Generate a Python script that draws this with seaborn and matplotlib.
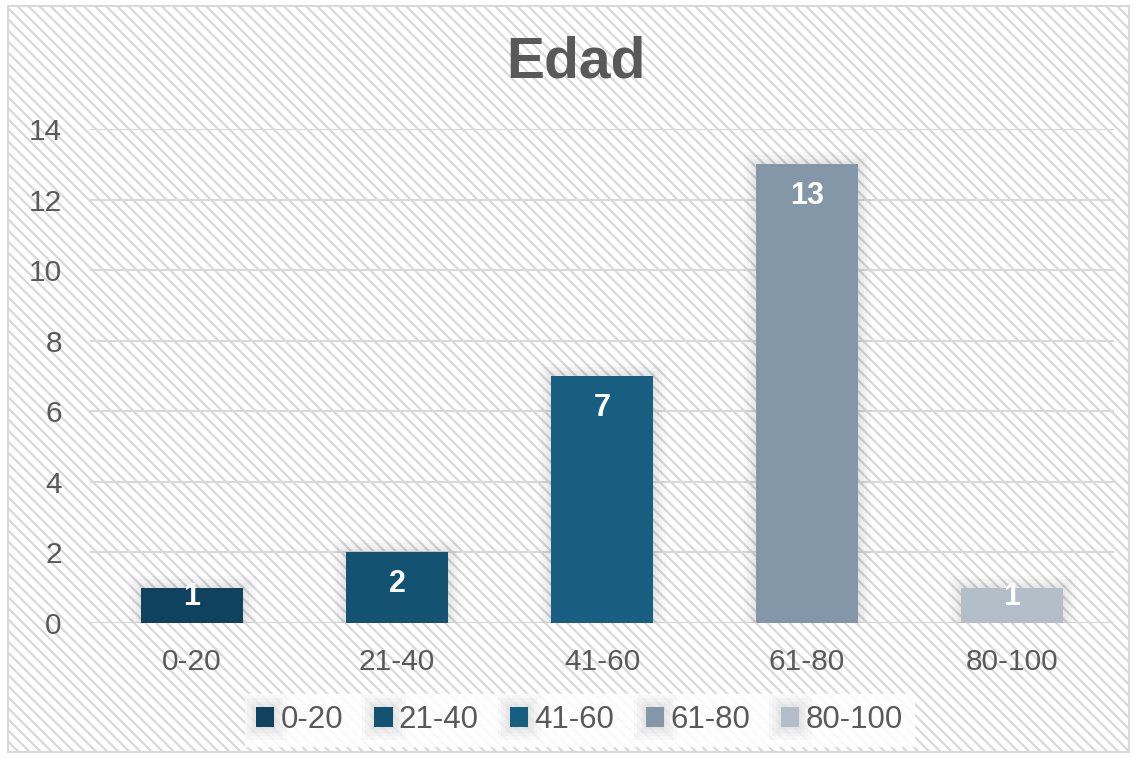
import pandas as pd
import seaborn as sns
import matplotlib.pyplot as plt
import matplotlib.patheffects as pe
from matplotlib.patches import Rectangle

# data
categories = ['0-20', '21-40', '41-60', '61-80', '80-100']
counts = [1, 2, 7, 13, 1]
colors = ['#0E425E', '#135270', '#175E80', '#8497A8', '#B4BEC8']

df = pd.DataFrame({'Edad': categories, 'n': counts})

sns.set_theme(style='white')
plt.rcParams['font.family'] = ['Liberation Sans', 'DejaVu Sans']
plt.rcParams['hatch.color'] = '#F3F3F3'
plt.rcParams['hatch.linewidth'] = 1.6

fig = plt.figure(figsize=(11.35, 7.58), dpi=100)
fig.patch.set_facecolor('white')

# hatched background + thin frame (excel style)
bg = Rectangle((0.007, 0.008), 0.988, 0.984, transform=fig.transFigure,
               facecolor='white', edgecolor='#D9D9D9', lw=1.5, hatch='\\\\\\',
               zorder=-10)
fig.patches.append(bg)

ax = fig.add_axes([0.0789, 0.1781, 0.903, 0.6517])
ax.patch.set_alpha(0)

sns.barplot(data=df, x='Edad', y='n', hue='Edad', palette=colors,
            saturation=1, width=0.5, dodge=False, legend=True, ax=ax, zorder=3)

# soft shadow round the bars
glow = [pe.Stroke(linewidth=w, foreground='black', alpha=0.025) for w in (18, 13, 8, 4)]
for bar in ax.patches:
    bar.set_linewidth(0)
    bar.set_path_effects(glow + [pe.Normal()])

# data labels
for i, v in enumerate(counts):
    ax.text(i, max(v - 0.9, 0.74), str(v), ha='center', va='center', color='white',
            fontsize=22, fontweight='bold', zorder=5)

ax.set_ylim(0, 14)
ax.set_xlim(-0.5, 4.5)
ax.set_yticks(range(0, 15, 2))
ax.grid(axis='y', color='#D9D9D9', lw=1.5, zorder=0)
ax.set_axisbelow(True)
for s in ax.spines.values():
    s.set_visible(False)
ax.set_xlabel('')
ax.set_ylabel('')
ax.tick_params(axis='both', labelsize=21.5, colors='#595959', length=0)
ax.tick_params(axis='y', pad=20)
ax.tick_params(axis='x', pad=18)

fig.suptitle('Edad', x=0.507, y=0.953, fontsize=41, fontweight='bold',
             color='#595959')

leg = ax.legend(loc='center', bbox_to_anchor=(0.478, -0.196), ncol=5,
                frameon=True, fontsize=22.5, handlelength=0.58, handleheight=0.58,
                handletextpad=0.2, columnspacing=1.0, borderpad=0.35,
                fancybox=False)
leg.get_frame().set_facecolor('white')
leg.get_frame().set_edgecolor('white')
leg.get_frame().set_alpha(0.85)
for t in leg.get_texts():
    t.set_color('#595959')

fig.savefig('out.png', dpi=100, facecolor='white')
